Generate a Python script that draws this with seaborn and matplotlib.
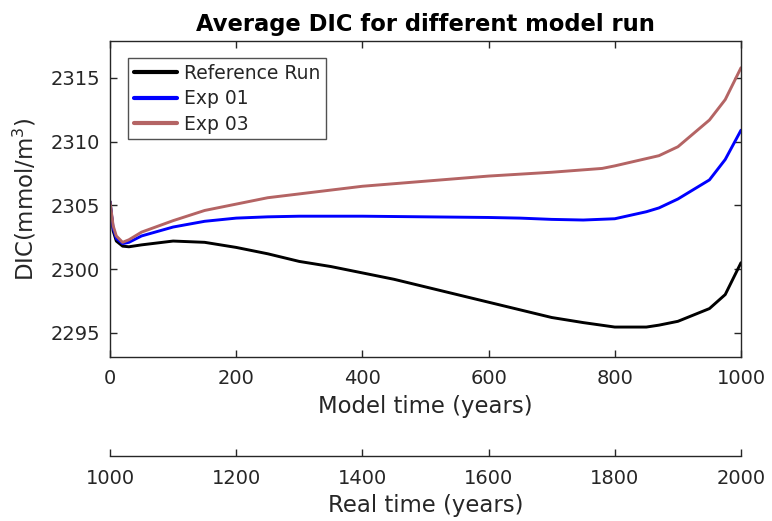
import numpy as np
import pandas as pd
import matplotlib
matplotlib.use("Agg")
import matplotlib.pyplot as plt
import seaborn as sns

# ---- data ----
t_ref = [0, 5, 10, 20, 30, 50, 100, 150, 200, 250, 300, 350, 400, 450, 500, 550,
         600, 650, 700, 750, 800, 850, 870, 900, 950, 975, 1000]
v_ref = [2305.3, 2303.0, 2302.2, 2301.8, 2301.75, 2301.9, 2302.2, 2302.1, 2301.7,
         2301.2, 2300.6, 2300.2, 2299.7, 2299.2, 2298.6, 2298.0, 2297.4, 2296.8,
         2296.2, 2295.8, 2295.45, 2295.45, 2295.6, 2295.9, 2296.9, 2298.0, 2300.5]

t_exp01 = [0, 5, 10, 20, 30, 50, 100, 150, 200, 250, 300, 400, 500, 600, 650, 700,
           750, 800, 850, 870, 900, 950, 975, 1000]
v_exp01 = [2305.3, 2303.2, 2302.4, 2302.0, 2302.1, 2302.6, 2303.3, 2303.75, 2304.0,
           2304.1, 2304.15, 2304.15, 2304.1, 2304.05, 2304.0, 2303.9, 2303.85,
           2303.95, 2304.5, 2304.8, 2305.5, 2307.0, 2308.6, 2310.9]

t_exp03 = [0, 5, 10, 20, 30, 50, 100, 150, 200, 250, 300, 400, 500, 600, 700, 780,
           800, 870, 900, 950, 975, 1000]
v_exp03 = [2305.3, 2303.4, 2302.6, 2302.1, 2302.3, 2302.9, 2303.8, 2304.6, 2305.1,
           2305.6, 2305.9, 2306.5, 2306.9, 2307.3, 2307.6, 2307.9, 2308.1, 2308.9,
           2309.6, 2311.7, 2313.3, 2315.8]

series_names = ["Reference Run", "Exp 01", "Exp 03"]
series_colors = ["#000000", "#0000FF", "#B46464"]

x_ticks = [0, 200, 400, 600, 800, 1000]
y_ticks = [2295, 2300, 2305, 2310, 2315]
real_ticks = [1000, 1200, 1400, 1600, 1800, 2000]

# ---- style ----
sns.set_style("white")
plt.rcParams["font.family"] = ["DejaVu Sans"]
plt.rcParams["mathtext.fontset"] = "dejavusans"
axcol = "#262626"

W, H = 772, 521
fig = plt.figure(figsize=(W / 100, H / 100), dpi=100)
L, R, T, B = 110, 741, 41, 357
ax = fig.add_axes([L / W, 1 - B / H, (R - L) / W, (B - T) / H])

for tt, vv, name, col in zip([t_ref, t_exp01, t_exp03], [v_ref, v_exp01, v_exp03],
                             series_names, series_colors):
    df = pd.DataFrame({"t": tt, "v": vv})
    sns.lineplot(data=df, x="t", y="v", ax=ax, color=col, linewidth=2.1,
                 label=name, sort=False)

ax.set_xlim(0, 1000)
ax.set_ylim(2293.1, 2317.9)
ax.set_xticks(x_ticks)
ax.set_yticks(y_ticks)
for s in ax.spines.values():
    s.set_color(axcol)
    s.set_linewidth(1.0)
ax.tick_params(direction="in", bottom=True, left=True, top=True, right=True,
               length=5, width=1, color=axcol, labelcolor=axcol, labelsize=14)
ax.tick_params(axis="x", pad=9)
ax.tick_params(axis="y", pad=7)
ax.set_xlabel("Model time (years)", fontsize=16.4, color=axcol, labelpad=5)
ax.set_ylabel("DIC(mmol/m$^3$)", fontsize=16.4, color=axcol, labelpad=9)
ax.set_title("Average DIC for different model run", fontsize=16.3,
             fontweight="bold", color="black", pad=7)

leg = ax.legend(loc="upper left", bbox_to_anchor=(18 / 631, 1 - 17 / 316),
                fontsize=13.5, frameon=True, fancybox=False, borderpad=0.3,
                handlelength=2.3, handletextpad=0.4, labelspacing=0.35,
                borderaxespad=0)
leg.get_frame().set_edgecolor(axcol)
leg.get_frame().set_linewidth(1.0)
for h in leg.get_lines():
    h.set_linewidth(3.0)

# secondary "real time" axis: a separate axis line below the main axes
Y2 = 456
ax2 = fig.add_axes([L / W, 1 - Y2 / H, (R - L) / W, 0.5 / H])
ax2.set_facecolor("none")
for k in ["top", "left", "right"]:
    ax2.spines[k].set_visible(False)
ax2.spines["bottom"].set_color(axcol)
ax2.spines["bottom"].set_linewidth(1.0)
ax2.set_xlim(real_ticks[0], real_ticks[-1])
ax2.set_xticks(real_ticks)
ax2.set_yticks([])
ax2.tick_params(axis="x", direction="in", bottom=True, top=False, length=5,
                width=1, color=axcol, labelcolor=axcol, labelsize=14, pad=9)
ax2.set_xlabel("Real time (years)", fontsize=16.4, color=axcol, labelpad=5)

fig.savefig("out.png", dpi=100)
